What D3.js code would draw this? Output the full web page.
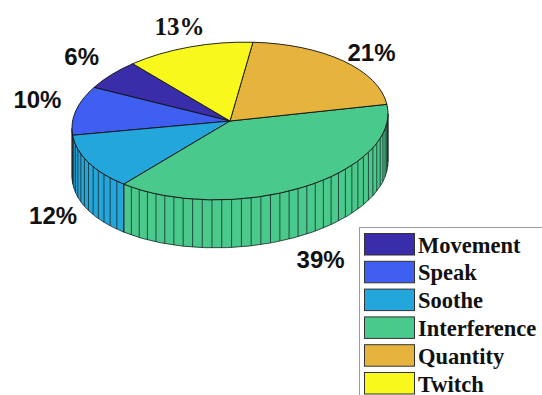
<!DOCTYPE html>
<html><head><meta charset="utf-8">
<script src="https://cdn.jsdelivr.net/npm/d3@7"></script>
<style>body{margin:0;background:#fff}svg{display:block}</style>
</head><body><svg id="chart" width="542" height="395"></svg>
<script>
// Pie slices, listed counter-clockwise
const categories = ["Movement", "Speak", "Soothe", "Interference", "Quantity", "Twitch"];
const shares = [6, 10, 12, 39, 21, 13];
const percentLabels = ["6%", "10%", "12%", "39%", "21%", "13%"];
const sliceColors = ["#3a2daa", "#3f5ff2", "#22a6dc", "#49c98b", "#e6b43c", "#f8f81c"];

const svg = d3.select("#chart");

// Ellipse geometry of the top face and extrusion depth
const cx = 230, cy = 121, rx = 158, ry = 78.5, depth = 48, tilt = 0.047;
const startAngle = 128 * Math.PI / 180;

// Cumulative share -> ellipse parameter (counter-clockwise from the start)
const angle = d3.scaleLinear().domain([0, 2 * Math.PI]).range([startAngle, startAngle + 2 * Math.PI]);
const arcs = d3.pie().sort(null).value(d => d)(shares).map((a, i) => ({
  i, ta: angle(a.startAngle), tb: angle(a.endAngle)
}));

const px = t => cx + rx * Math.cos(t);
const py = t => cy - ry * Math.sin(t);

const g = svg.append("g")
  .attr("transform", `matrix(1,${-tilt},0,1,0,${tilt * cx})`);

// Side walls: only the front half (t in [π, 2π]) is visible
const sideG = g.append("g");
arcs.forEach(d => {
  const a = Math.max(d.ta, Math.PI), b = Math.min(d.tb, 2 * Math.PI);
  if (b <= a) return;
  const large = (b - a) > Math.PI ? 1 : 0;
  // top rim, then down, bottom rim back
  const top = `M${px(a)},${py(a)} A${rx},${ry} 0 ${large} 0 ${px(b)},${py(b)}`;
  const bot = `L${px(b)},${py(b) + depth} A${rx},${ry} 0 ${large} 1 ${px(a)},${py(a) + depth} Z`;
  sideG.append("path")
    .attr("d", top + bot)
    .attr("fill", sliceColors[d.i])
    .attr("stroke", "#1c2a2a")
    .attr("stroke-width", 0.8)
    .attr("stroke-linejoin", "round");
  // facet lines
  const step = 3.6 * Math.PI / 180;
  const n = Math.max(1, Math.round((d.tb - d.ta) / step));
  for (let k = 0; k <= n; k++) {
    const t = d.ta + k * (d.tb - d.ta) / n;
    if (t < Math.PI || t > 2 * Math.PI) continue;
    sideG.append("line")
      .attr("x1", px(t)).attr("y1", py(t))
      .attr("x2", px(t)).attr("y2", py(t) + depth)
      .attr("stroke", "#1c2a2a")
      .attr("stroke-width", 0.8);
  }
});

// Top face wedges
g.append("g").selectAll("path")
  .data(arcs)
  .join("path")
  .attr("d", d => {
    const large = (d.tb - d.ta) > Math.PI ? 1 : 0;
    return `M${cx},${cy} L${px(d.ta)},${py(d.ta)} A${rx},${ry} 0 ${large} 0 ${px(d.tb)},${py(d.tb)} Z`;
  })
  .attr("fill", d => sliceColors[d.i])
  .attr("stroke", "#111")
  .attr("stroke-width", 0.9)
  .attr("stroke-linejoin", "round");

// Percentage labels outside the rim; front slices drop below the wall
const serifLabel = "Twitch";
svg.append("g").selectAll("text")
  .data(arcs)
  .join("text")
  .attr("x", d => cx + 1.25 * rx * Math.cos((d.ta + d.tb) / 2))
  .attr("y", d => {
    const m = (d.ta + d.tb) / 2;
    return cy - 1.25 * ry * Math.sin(m) + (Math.sin(m) < 0 ? depth + 3 : 0);
  })
  .attr("text-anchor", "middle")
  .attr("dominant-baseline", "central")
  .attr("font-family", d => categories[d.i] === serifLabel ? "'Liberation Serif', serif" : "'Liberation Sans', Arial, sans-serif")
  .attr("font-weight", "bold")
  .attr("font-size", d => categories[d.i] === serifLabel ? 25 : 24)
  .attr("fill", "#111")
  .text(d => percentLabels[d.i]);

// Legend
const lg = svg.append("g");
lg.append("rect")
  .attr("x", 359.5).attr("y", 227.5)
  .attr("width", 240).attr("height", 200)
  .attr("fill", "#fff")
  .attr("stroke", "#9a9a9a")
  .attr("stroke-width", 1);
const rowY = d3.scaleLinear().domain([0, 1]).range([233, 260.8]);
const items = lg.selectAll("g.item")
  .data(categories)
  .join("g")
  .attr("class", "item")
  .attr("transform", (d, i) => `translate(0,${rowY(i)})`);
items.append("rect")
  .attr("x", 364.5).attr("y", 0.5)
  .attr("width", 50).attr("height", 21.5)
  .attr("fill", (d, i) => sliceColors[i])
  .attr("stroke", "#333")
  .attr("stroke-width", 1);
items.append("text")
  .attr("x", 418).attr("y", 19.5)
  .attr("font-family", "'Liberation Serif', 'Times New Roman', serif")
  .attr("font-weight", "bold")
  .attr("font-size", 22.5)
  .attr("fill", "#111")
  .text(d => d);
</script>
</body></html>
